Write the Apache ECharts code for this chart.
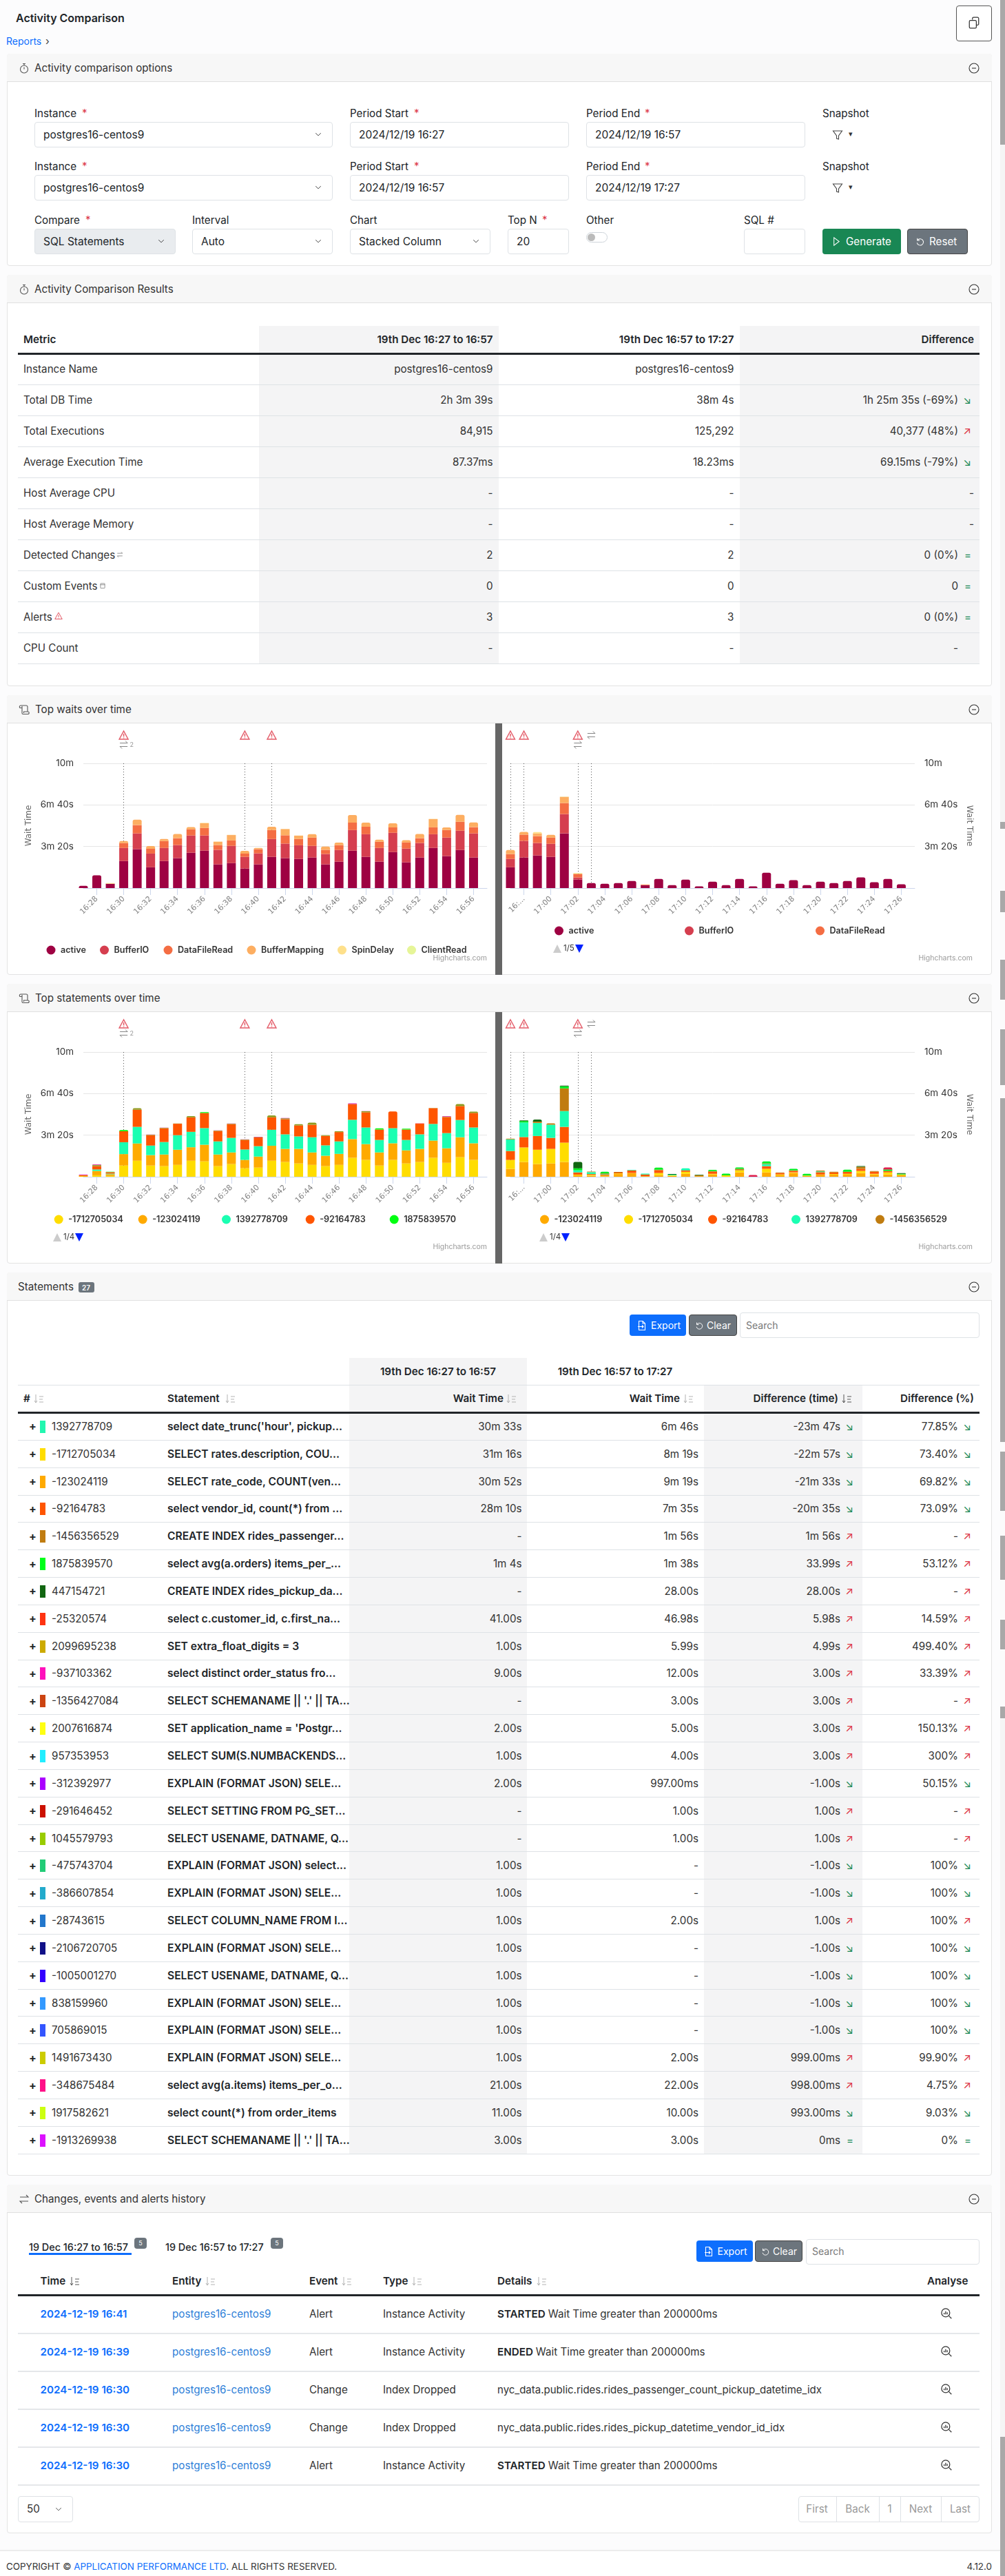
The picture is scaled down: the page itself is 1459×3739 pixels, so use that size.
<!DOCTYPE html>
<html>
<head>
<meta charset="utf-8">
<title>Activity Comparison</title>
<script src="https://cdn.jsdelivr.net/npm/echarts@6/dist/echarts.min.js"></script>
<style>
html, body { margin: 0; padding: 0; background: #fcfcfd; }
#page { position: relative; width: 1459px; height: 3739px; overflow: hidden; font-family: Inter, "Noto Sans", sans-serif; font-size: 15.2px; color: #212529; }
#page div, #page span, #page svg { position: absolute; }
.t { white-space: pre; line-height: 1.2; }
.card { background: #fff; border: 1px solid #e3e3e3; border-radius: 4px; box-sizing: border-box; }
.cardhead { background: #f7f7f7; border-bottom: 1px solid #e0e0e0; box-sizing: border-box; border-radius: 4px 4px 0 0; }
.input { background: #fff; border: 1px solid #dee2e6; border-radius: 4px; box-sizing: border-box; }
.btn { border-radius: 4px; box-sizing: border-box; }
</style>
</head>
<body>
<div id="page"></div>
<script>
// ---- chart data, seconds of wait time per minute ----
const leftTimes = ['16:27','16:28','16:29','16:30','16:31','16:32','16:33','16:34','16:35','16:36','16:37','16:38','16:39','16:40','16:41','16:42','16:43','16:44','16:45','16:46','16:47','16:48','16:49','16:50','16:51','16:52','16:53','16:54','16:55','16:56','16:57'];
const rightTimes = ['16:57','16:58','16:59','17:00','17:01','17:02','17:03','17:04','17:05','17:06','17:07','17:08','17:09','17:10','17:11','17:12','17:13','17:14','17:15','17:16','17:17','17:18','17:19','17:20','17:21','17:22','17:23','17:24','17:25','17:26','17:27'];
const yTickLabels = { 200: '3m 20s', 400: '6m 40s', 600: '10m' };

const waitNames = ['active','BufferIO','DataFileRead','BufferMapping','SpinDelay','ClientRead'];
const waitColors = ['#9e0142','#d53e4f','#f46d43','#fdae61','#fee08b','#e6f598'];

const waitsLeftActive = [11,61,21,130,187,100,130,144,170,180,114,120,94,114,150,144,140,147,114,127,180,150,127,173,124,147,193,154,183,147];
const waitsLeftBuffer = [0,0,0,63,76,66,63,63,83,73,70,83,56,53,86,70,66,56,50,56,99,109,66,93,66,70,66,89,93,116];
const waitsLeftData = [0,0,0,23,40,23,33,33,30,36,23,26,16,20,43,40,30,40,20,23,36,36,30,26,30,23,33,36,43,30];
const waitsLeftMapping = [0,0,0,10,26,13,10,20,10,23,16,26,13,6,16,30,16,16,16,13,36,20,10,20,10,20,40,13,33,23];
const waitsLeftSpin = [0,0,3,0,0,0,0,0,0,1,1,1,0,0,0,1,1,0,0,0,0,0,0,0,0,0,1,0,0,0];
const waitsLeftClient = [0,0,0,0,0,0,0,0,0,0,0,0,0,0,0,0,0,0,0,0,0,0,0,0,0,0,0,0,0,0];

const waitsRightActive = [100,147,157,150,263,41,24,21,24,34,14,44,14,41,8,31,14,44,8,74,21,38,14,31,24,34,51,28,44,18];
const waitsRightBuffer = [40,80,60,63,93,10,0,0,0,0,0,0,0,0,0,0,0,0,0,0,0,0,0,0,0,0,0,0,0,0];
const waitsRightData = [23,30,33,30,53,16,0,0,0,0,2,0,0,0,0,0,0,0,0,0,0,0,0,0,0,0,0,0,0,0];
const waitsRightMapping = [20,13,13,13,30,3,0,0,0,0,1,0,0,0,0,0,0,0,0,0,0,0,0,0,0,0,0,0,0,0];
const waitsRightSpin = [0,0,6,0,0,1,0,0,0,0,0,0,0,0,0,0,0,0,0,0,0,0,0,0,0,0,0,0,0,0];
const waitsRightClient = [0,0,0,0,1,2,0,0,0,0,0,0,0,0,0,0,0,0,0,0,0,0,0,0,0,0,0,0,0,0];

const stmtLeftNames = ['-1712705034','-123024119','1392778709','-92164783','1875839570','1045579793','-937103362'];
const stmtLeftColors = ['#ffdd00','#ffaa00','#1affb2','#ff5500','#00ff11','#8f9a1e','#e0109c'];
const stmtLeftYellow = [0,7,4,54,77,54,51,57,77,74,51,61,41,44,77,71,64,57,51,57,91,81,54,81,64,71,91,67,94,81];
const stmtLeftOrange = [7,21,8,55,83,50,56,73,65,80,56,56,40,53,72,63,70,60,50,53,90,76,63,80,63,63,83,70,96,80];
const stmtLeftTeal = [0,7,3,57,80,46,60,70,74,80,63,70,50,50,77,70,60,73,50,60,93,80,60,73,50,70,80,73,83,76];
const stmtLeftRed = [0,16,7,53,82,50,66,55,70,73,50,66,46,42,60,73,53,60,45,45,75,73,50,80,50,52,76,77,67,70];
const stmtLeftGreen = [0,0,2,6,0,0,0,0,0,4,0,0,0,0,0,0,0,0,0,0,0,0,6,0,4,0,0,0,0,0];
const stmtLeftOlive = [0,5,0,0,8,2,2,1,6,0,2,2,2,2,9,4,6,10,4,4,1,5,0,0,0,0,1,2,10,6];
const stmtLeftPink = [3,3,0,0,0,1,1,0,0,0,1,1,1,1,0,2,0,0,0,0,3,1,0,0,0,1,0,3,0,0];

const stmtRightNames = ['-123024119','-1712705034','-92164783','1392778709','-1456356529','1875839570','447154721','-25320574'];
const stmtRightColors = ['#ffaa00','#ffdd00','#ff5500','#1affb2','#c07c10','#00ee22','#116611','#e0204c'];
const stmtRightOrange = [38,71,61,64,71,7,5,3,13,17,3,8,4,14,3,11,0,21,0,21,7,18,4,11,10,10,18,11,11,7];
const stmtRightYellow = [43,70,69,70,93,3,4,3,3,1,0,10,3,10,0,3,7,10,0,17,4,3,2,0,3,4,10,3,10,4];
const stmtRightRed = [43,50,66,53,76,11,4,5,4,13,8,13,0,7,0,10,0,0,0,13,7,7,0,11,8,10,10,10,7,0];
const stmtRightTeal = [56,70,63,63,76,10,9,2,0,2,4,0,3,10,0,0,0,0,0,10,0,0,0,4,0,0,0,0,0,0];
const stmtRightBrown = [3,0,6,7,109,0,3,3,3,0,0,3,0,0,4,3,0,7,0,3,3,3,0,4,3,0,10,3,0,0];
const stmtRightGreen = [0,7,0,0,10,10,0,8,0,0,0,10,0,0,0,6,8,7,0,10,0,7,8,0,0,10,0,0,7,3];
const stmtRightDark = [0,3,10,0,3,30,0,0,0,0,0,0,3,0,2,0,0,0,0,0,0,0,0,0,0,0,3,0,0,3];
const stmtRightCrimson = [0,0,0,0,0,0,0,0,0,0,0,0,0,0,0,0,0,0,8,0,0,0,0,0,0,0,0,0,10,0];

const leftAlerts = ['16:30','16:39','16:41'];
const leftChanges = [['16:30','change','2']];
const rightAlerts = ['16:57','16:58','17:02'];
const rightChanges = [['17:02','change',''],['17:03','alert','']];

// ---- table data ----
const metricNames = ['Instance Name','Total DB Time','Total Executions','Average Execution Time','Host Average CPU','Host Average Memory','Detected Changes','Custom Events','Alerts','CPU Count'];
const metricFirst = ['postgres16-centos9','2h 3m 39s','84,915','87.37ms','-','-','2','0','3','-'];
const metricSecond = ['postgres16-centos9','38m 4s','125,292','18.23ms','-','-','2','0','3','-'];
const metricDiff = ['','1h 25m 35s (-69%)','40,377 (48%)','69.15ms (-79%)','-','-','0 (0%)','0','0 (0%)','-'];
const metricTrend = ['','d','u','d','n','n','e','e','e','x'];

const stmtIds = ['1392778709','-1712705034','-123024119','-92164783','-1456356529','1875839570','447154721','-25320574','2099695238','-937103362','-1356427084','2007616874','957353953','-312392977','-291646452','1045579793','-475743704','-386607854','-28743615','-2106720705','-1005001270','838159960','705869015','1491673430','-348675484','1917582621','-1913269938'];
const stmtSwatches = ['#22f7b0','#ffdd00','#ffaa00','#ff5500','#c07c10','#00ff1a','#116611','#ff3311','#ccaa00','#ff11bb','#cc4411','#ffff11','#22eeff','#aa00ff','#cc1100','#99cc00','#22cc77','#22aacc','#2277cc','#111188','#3300ff','#3399ff','#3355ff','#cccc00','#ff1188','#ccff11','#dd11ff'];
const stmtTexts = ["select date_trunc('hour', pickup...",'SELECT rates.description, COU...','SELECT rate_code, COUNT(ven...','select vendor_id, count(*) from ...','CREATE INDEX rides_passenger...','select avg(a.orders) items_per_...','CREATE INDEX rides_pickup_da...','select c.customer_id, c.first_na...','SET extra_float_digits = 3','select distinct order_status fro...',"SELECT SCHEMANAME || '.' || TA...","SET application_name = 'Postgr...",'SELECT SUM(S.NUMBACKENDS...','EXPLAIN (FORMAT JSON) SELE...','SELECT SETTING FROM PG_SET...','SELECT USENAME, DATNAME, Q...','EXPLAIN (FORMAT JSON) select...','EXPLAIN (FORMAT JSON) SELE...','SELECT COLUMN_NAME FROM I...','EXPLAIN (FORMAT JSON) SELE...','SELECT USENAME, DATNAME, Q...','EXPLAIN (FORMAT JSON) SELE...','EXPLAIN (FORMAT JSON) SELE...','EXPLAIN (FORMAT JSON) SELE...','select avg(a.items) items_per_o...','select count(*) from order_items',"SELECT SCHEMANAME || '.' || TA..."];
const stmtWaitFirst = ['30m 33s','31m 16s','30m 52s','28m 10s','-','1m 4s','-','41.00s','1.00s','9.00s','-','2.00s','1.00s','2.00s','-','-','1.00s','1.00s','1.00s','1.00s','1.00s','1.00s','1.00s','1.00s','21.00s','11.00s','3.00s'];
const stmtWaitSecond = ['6m 46s','8m 19s','9m 19s','7m 35s','1m 56s','1m 38s','28.00s','46.98s','5.99s','12.00s','3.00s','5.00s','4.00s','997.00ms','1.00s','1.00s','-','-','2.00s','-','-','-','-','2.00s','22.00s','10.00s','3.00s'];
const stmtDiffTime = ['-23m 47s','-22m 57s','-21m 33s','-20m 35s','1m 56s','33.99s','28.00s','5.98s','4.99s','3.00s','3.00s','3.00s','3.00s','-1.00s','1.00s','1.00s','-1.00s','-1.00s','1.00s','-1.00s','-1.00s','-1.00s','-1.00s','999.00ms','998.00ms','993.00ms','0ms'];
const stmtDiffPct = ['77.85%','73.40%','69.82%','73.09%','-','53.12%','-','14.59%','499.40%','33.39%','-','150.13%','300%','50.15%','-','-','100%','100%','100%','100%','100%','100%','100%','99.90%','4.75%','9.03%','0%'];
const stmtTrend = ['d','d','d','d','u','u','u','u','u','u','u','u','u','d','u','u','d','d','u','d','d','d','d','u','u','d','e'];

const eventTimes = ['2024-12-19 16:41','2024-12-19 16:39','2024-12-19 16:30','2024-12-19 16:30','2024-12-19 16:30'];
const eventKinds = ['Alert','Alert','Change','Change','Alert'];
const eventTypes = ['Instance Activity','Instance Activity','Index Dropped','Index Dropped','Instance Activity'];
const eventBold = ['STARTED','ENDED','','','STARTED'];
const eventDetails = ['Wait Time greater than 200000ms','Wait Time greater than 200000ms','nyc_data.public.rides.rides_passenger_count_pickup_datetime_idx','nyc_data.public.rides.rides_pickup_datetime_vendor_id_idx','Wait Time greater than 200000ms'];

const scrollThumbs = [[0,210],[1193,10],[1293,31],[1393,58],[1494,81],[1594,499],[2107,86],[2229,64],[2351,43],[2477,17],[3537,202]];
const scrollGaps = [[1203,90],[1324,69],[1451,43],[1575,19],[2093,14],[2193,36],[2293,58],[2394,83]];

// ---- small dom helpers ----
const page = document.getElementById('page');
function box(x, y, w, h, cls, css) {
    const d = document.createElement('div');
    d.className = cls || '';
    d.style.cssText = `left:${x}px;top:${y}px;width:${w}px;height:${h}px;` + (css || '');
    page.appendChild(d);
    return d;
}
// align: l, r or c; x is the edge or the centre, yc the vertical centre
function txt(x, yc, s, css, align) {
    const d = document.createElement('span');
    d.className = 't';
    const tx = align === 'r' ? '-100%' : align === 'c' ? '-50%' : '0';
    d.style.cssText = `left:${x}px;top:${yc}px;transform:translate(${tx},-50%);` + (css || '');
    d.textContent = s;
    page.appendChild(d);
    return d;
}
function icon(x, y, w, h, inner, color) {
    const ns = 'http://www.w3.org/2000/svg';
    const s = document.createElementNS(ns, 'svg');
    s.setAttribute('viewBox', '0 0 16 16');
    s.setAttribute('width', w);
    s.setAttribute('height', h);
    s.style.cssText = `left:${x}px;top:${y}px;fill:none;stroke:${color || '#444'};stroke-width:1.1;`;
    s.innerHTML = inner;
    page.appendChild(s);
}
const ICON_WATCH = '<circle cx="8" cy="9.5" r="5.5"/><path d="M6 1.5h4M8 1.5v2.5M8 6.5v3"/>';
const ICON_MINUS = '<circle cx="8" cy="8" r="7"/><path d="M5 8h6"/>';
const ICON_SCROLL = '<path d="M3 2h8a2 2 0 0 1 2 2v7M3 2a2 2 0 0 0-1 3.5h3V3M5 5v8a1.5 1.5 0 0 0 1.5 1.5h7a1.5 1.5 0 0 0 0-3.5h-6v2"/>';
const ICON_SWAP = '<path d="M2 5h12L11 2M14 11H2l3 3"/>';
const ICON_ALERT = '<path d="M8 1.5L15 14H1Z"/><path d="M8 6v4.5M8 11.8v.8"/>';
const ICON_CAL = '<rect x="3" y="3" width="10" height="11" rx="1"/><path d="M3 6h10"/>';
const ICON_CHEVRON = '<path d="M3 5.5l5 5 5-5"/>';
const ICON_FUNNEL = '<path d="M1.5 2h13L9.5 9v5l-3-1V9Z"/>';
const ICON_PLAY = '<path d="M5 2l8 6-8 6Z"/>';
const ICON_RESET = '<path d="M4 3v3.5h3.5M4 6.5a5 5 0 1 1-.5 3.5"/>';
const ICON_EXPORT = '<path d="M9 1.5H3.5v13h9V5ZM9 1.5V5h3.5M2 9.5h8M8 7.5l2 2-2 2"/>';
const ICON_ZOOM = '<circle cx="7" cy="7" r="5.3"/><path d="M11 11l3.5 3.5M5 9V7M7 9V5M9 9V6.5"/>';
const ICON_COPY = '<path d="M6 4V2.5A1.5 1.5 0 0 1 7.5 1h5A1.5 1.5 0 0 1 14 2.5v7a1.5 1.5 0 0 1-1.5 1.5H11"/><rect x="2" y="5" width="9" height="10" rx="1.5"/>';

function card(y1, y2, headBottom, title, titleX, ic) {
    box(10, y1, 1430, y2 - y1, 'card');
    box(10, y1, 1430, headBottom - y1, 'cardhead');
    txt(titleX, (y1 + headBottom) / 2, title, 'font-size:15.2px;color:#333;');
    if (ic) icon(27, (y1 + headBottom) / 2 - 8, 16, 16, ic, '#555');
    icon(1406, (y1 + headBottom) / 2 - 8, 16, 16, ICON_MINUS, '#333');
}
function trendMark(right, yc, kind) {
    const marks = { u: ['↗', '#dc3545'], d: ['↘', '#198754'], e: ['=', '#198754'] };
    if (marks[kind]) txt(right, yc, marks[kind][0], `color:${marks[kind][1]};font-size:15px;`, 'r');
}

// ---- top of page ----
txt(23, 27, 'Activity Comparison', 'font-size:16px;font-weight:600;color:#212529;');
box(1388, 8, 52, 52, '', 'background:#fff;border:1px solid #555;border-radius:4px;box-sizing:border-box;');
icon(1405, 22, 18, 22, ICON_COPY, '#333');
txt(9, 60, 'Reports', 'color:#0d6efd;font-size:14px;');
txt(66, 60, '›', 'color:#444;font-size:15px;');

// ---- options form ----
card(78, 386, 119, 'Activity comparison options', 50, ICON_WATCH);
function field(label, x, w, y, value, opts) {
    opts = opts || {};
    txt(x, y - 12, label);
    if (opts.required) txt(x + opts.required, y - 13, '*', 'color:#dc3545;font-size:15px;');
    box(x, y, w, 37, 'input', opts.fill ? `background:${opts.fill};` : '');
    if (value) txt(x + 13, y + 18.5, value, 'font-size:15.5px;');
    if (opts.select) icon(x + w - 27, y + 12, 12, 12, ICON_CHEVRON, '#222');
}
[177, 254].forEach((y, i) => {
    field('Instance', 50, 433, y, 'postgres16-centos9', { required: 69, select: true });
    field('Period Start', 508, 318, y, i ? '2024/12/19 16:57' : '2024/12/19 16:27', { required: 93 });
    field('Period End', 851, 318, y, i ? '2024/12/19 17:27' : '2024/12/19 16:57', { required: 85 });
    txt(1194, y - 12, 'Snapshot');
    icon(1207, y + 11, 18, 16, ICON_FUNNEL, '#444');
    txt(1232, y + 18, '▾', 'font-size:11px;color:#333;');
});
field('Compare', 50, 205, 332, 'SQL Statements', { required: 74, select: true, fill: '#e9ecef' });
field('Interval', 279, 204, 332, 'Auto', { select: true });
field('Chart', 508, 204, 332, 'Stacked Column', { select: true });
field('Top N', 737, 89, 332, '20', { required: 50 });
txt(851, 320, 'Other');
box(851, 337, 31, 15, '', 'background:#fff;border:1px solid #ced4da;border-radius:8px;box-sizing:border-box;');
box(853, 339, 11, 11, '', 'background:#bbb;border-radius:50%;');
field('SQL #', 1080, 89, 332, '');
box(1194, 332, 114, 37, 'btn', 'background:#198754;');
icon(1206, 343, 15, 15, ICON_PLAY, '#fff');
txt(1228, 350.5, 'Generate', 'color:#fff;');
box(1317, 332, 88, 37, 'btn', 'background:#6c757d;border:1px solid #444;');
icon(1328, 343, 15, 15, ICON_RESET, '#fff');
txt(1349, 350.5, 'Reset', 'color:#fff;');

// ---- comparison results table ----
card(399, 996, 440, 'Activity Comparison Results', 50, ICON_WATCH);
box(376, 473, 348, 490, '', 'background:#f4f4f5;');
box(1074, 473, 348, 490, '', 'background:#f4f4f5;');
txt(34, 493, 'Metric', 'font-weight:600;');
txt(715.5, 493, '19th Dec 16:27 to 16:57', 'font-weight:600;', 'r');
txt(1065.5, 493, '19th Dec 16:57 to 17:27', 'font-weight:600;', 'r');
txt(1414, 493, 'Difference', 'font-weight:600;', 'r');
box(26, 512, 1396, 3, '', 'background:#212529;');
metricNames.forEach((name, i) => {
    const yc = 536 + 45 * i;
    box(26, 558 + 45 * i, 1396, 1, '', 'background:#dee2e6;');
    txt(34, yc, name, 'color:#333;');
    txt(715.5, yc, metricFirst[i], 'color:#333;', 'r');
    txt(1065.5, yc, metricSecond[i], 'color:#333;', 'r');
    const trend = metricTrend[i];
    txt(trend === 'n' ? 1414 : 1391, yc, metricDiff[i], 'color:#333;', 'r');
    trendMark(1410, yc, trend);
});
icon(169, 800, 10, 10, ICON_SWAP, '#666');
icon(144, 845, 10, 10, ICON_CAL, '#666');
icon(79, 888, 12, 12, ICON_ALERT, '#dc3545');

// ---- chart cards ----
card(1009, 1415, 1050, 'Top waits over time', 51, ICON_SCROLL);
box(719, 1050, 10, 365, '', 'background:#666;');
card(1428, 1834, 1469, 'Top statements over time', 51, ICON_SCROLL);
box(719, 1469, 10, 365, '', 'background:#666;');
box(10, 1050, 709, 365, '').id = 'waitsLeft';
box(729, 1050, 710, 365, '').id = 'waitsRight';
box(10, 1469, 709, 365, '').id = 'stmtLeft';
box(729, 1469, 710, 365, '').id = 'stmtRight';

// ---- statements table ----
card(1847, 3158, 1888, 'Statements', 26);
box(113.5, 1861, 23, 15, '', 'background:#6c757d;border-radius:3px;');
txt(125, 1868.5, '27', 'color:#fff;font-size:10px;font-weight:600;', 'c');
function tools(exX, clrX, clrW, searchX, y, h, sy, sh) {
    box(exX, y, 82, h, 'btn', 'background:#0d6efd;');
    icon(exX + 10, y + h / 2 - 8, 16, 16, ICON_EXPORT, '#fff');
    txt(exX + 31, y + h / 2, 'Export', 'color:#fff;font-size:14px;');
    box(clrX, y, clrW, h, 'btn', 'background:#6c757d;border:1px solid #444;');
    icon(clrX + 8, y + h / 2 - 7, 14, 14, ICON_RESET, '#fff');
    txt(clrX + 26, y + h / 2, 'Clear', 'color:#fff;font-size:14px;');
    box(searchX, sy, 1422 - searchX, sh, 'input');
    txt(searchX + 9, sy + sh / 2, 'Search', 'color:#777;font-size:14px;');
}
tools(914, 1000, 70, 1074, 1908, 31, 1905, 37);
box(507, 1971, 258, 1154.6, '', 'background:#f4f4f5;');
box(1022, 2010, 230, 1115.6, '', 'background:#f4f4f5;');
box(26, 2010, 1396, 1, '', 'background:#dee2e6;');
txt(636, 1991, '19th Dec 16:27 to 16:57', 'font-weight:600;', 'c');
txt(893, 1991, '19th Dec 16:57 to 17:27', 'font-weight:600;', 'c');
const ICON_SORT = '<path d="M4 2v12M2 11l2 3 2-3M9 5h6M9 9h5M9 13h6" stroke-width="0.9"/>';
function sortIcon(x, yc, color) { icon(x, yc - 8, 16, 16, ICON_SORT, color || '#aaa'); }
txt(34, 2030, '#', 'font-weight:600;');
sortIcon(48, 2030);
txt(243, 2030, 'Statement', 'font-weight:600;');
sortIcon(326, 2030);
txt(731, 2030, 'Wait Time', 'font-weight:600;', 'r');
sortIcon(734, 2030);
txt(987, 2030, 'Wait Time', 'font-weight:600;', 'r');
sortIcon(991, 2030);
txt(1217, 2030, 'Difference (time)', 'font-weight:600;', 'r');
sortIcon(1221, 2030, '#444');
txt(1414, 2030, 'Difference (%)', 'font-weight:600;', 'r');
box(26, 2049, 1396, 3, '', 'background:#212529;');
const ROW_H = 39.84;
stmtIds.forEach((id, i) => {
    const yc = 2050.5 + ROW_H * i + ROW_H / 2 + 0.5;
    box(26, 2050 + ROW_H * (i + 1), 1396, 1, '', 'background:#dee2e6;');
    txt(42, yc + 0.5, '+', 'font-weight:700;font-size:16px;color:#212529;');
    box(58, yc - 9, 8, 18, '', `background:${stmtSwatches[i]};`);
    txt(75, yc, id, 'color:#333;');
    txt(243, yc, stmtTexts[i], 'font-weight:600;font-size:15.6px;color:#212529;');
    txt(757.5, yc, stmtWaitFirst[i], 'color:#333;', 'r');
    txt(1014, yc, stmtWaitSecond[i], 'color:#333;', 'r');
    txt(1220, yc, stmtDiffTime[i], 'color:#333;', 'r');
    trendMark(1239, yc, stmtTrend[i]);
    txt(1391, yc, stmtDiffPct[i], 'color:#333;', 'r');
    trendMark(1410, yc, stmtTrend[i]);
});

// ---- changes history ----
card(3171, 3677, 3212, 'Changes, events and alerts history', 50, ICON_SWAP);
txt(42, 3262, '19 Dec 16:27 to 16:57', 'font-weight:500;font-size:14.4px;');
box(42, 3270, 149, 3, '', 'background:#0d6efd;');
box(195, 3248, 18, 16, '', 'background:#6c757d;border-radius:4px;');
txt(204, 3256, '5', 'color:#fff;font-size:9px;', 'c');
txt(240, 3262, '19 Dec 16:57 to 17:27', 'font-weight:500;font-size:14.4px;');
box(393, 3248, 18, 16, '', 'background:#6c757d;border-radius:4px;');
txt(402, 3256, '5', 'color:#fff;font-size:9px;', 'c');
tools(1010.5, 1096, 69, 1170, 3252, 31, 3249.5, 37);
[['Time', 58.6, 100, '#444'], ['Entity', 250, 297], ['Event', 449, 495], ['Type', 556, 597], ['Details', 722, 778]].forEach(h => {
    txt(h[1], 3311, h[0], 'font-weight:600;');
    sortIcon(h[2], 3311, h[3]);
});
txt(1346, 3311, 'Analyse', 'font-weight:600;');
box(26, 3330, 1396, 3, '', 'background:#212529;');
eventTimes.forEach((t, i) => {
    const yc = 3359 + 55 * i;
    box(26, 3386 + 55 * i, 1396, 2, '', 'background:#e5e7ea;');
    txt(58.6, yc, t, 'color:#0d6efd;font-weight:600;');
    txt(250, yc, 'postgres16-centos9', 'color:#2f7fd8;');
    txt(449, yc, eventKinds[i], 'color:#333;');
    txt(556, yc, eventTypes[i], 'color:#333;');
    if (eventBold[i]) {
        const b = txt(722, yc, eventBold[i], 'font-weight:600;');
        txt(722 + b.getBoundingClientRect().width + 4, yc, eventDetails[i], 'color:#333;');
    } else {
        txt(722, yc, eventDetails[i], 'color:#333;font-size:15px;');
    }
    icon(1365, yc - 10, 18, 18, ICON_ZOOM, '#333');
});
box(26, 3622.5, 80, 38, 'input');
txt(39, 3641.5, '50', 'color:#333;');
icon(79, 3636, 12, 12, ICON_CHEVRON, '#333');
box(1158.5, 3622.5, 263.5, 38, 'input');
[['First', 1186, 1214], ['Back', 1245, 1276], ['1', 1291.5, 1307], ['Next', 1336.5, 1366], ['Last', 1394, 0]].forEach(p => {
    txt(p[1], 3641.5, p[0], 'color:#999;', 'c');
    if (p[2]) box(p[2], 3622.5, 1, 38, '', 'background:#dee2e6;');
});

// ---- footer and the scrollbar pieces in the capture ----
box(0, 3701, 1459, 38, '', 'background:#fff;border-top:2px solid #ececec;box-sizing:border-box;');
const fc = txt(9, 3725, 'COPYRIGHT © ', 'font-size:13.4px;color:#333;');
let fx = 9 + fc.getBoundingClientRect().width;
const fl = txt(fx, 3725, 'APPLICATION PERFORMANCE LTD', 'font-size:13.4px;color:#0d6efd;');
fx += fl.getBoundingClientRect().width;
txt(fx, 3725, '. ALL RIGHTS RESERVED.', 'font-size:13.4px;color:#333;');
txt(1440, 3725, '4.12.0', 'font-size:13.4px;color:#333;', 'r');
box(1452, 0, 7, 3739, '', 'background:#f5f5f5;');
scrollGaps.forEach(g => box(1452, g[0], 7, g[1], '', 'background:#fbfbfb;'));
scrollThumbs.forEach(g => box(1452, g[0], 7, g[1], '', 'background:#a8a8a8;'));

// ---- charts ----
const PATH_ALERT = 'path://M6 0L12 11H0ZM6 3.6V7.6M6 8.8V9.6';
const PATH_SWAP = 'path://M0 3H11L8 0M11 8H0L3 11';
function stackSeries(names, colors, arrays) {
    // only the topmost non-empty block of a column gets the rounded corners
    const tops = arrays[0].map((_, i) => {
        let top = -1;
        arrays.forEach((a, s) => { if (a[i] > 0) top = s; });
        return top;
    });
    return names.map((name, s) => ({
        name: name,
        type: 'bar',
        stack: 'total',
        barWidth: 13,
        z: 2,
        itemStyle: { color: colors[s] },
        emphasis: { disabled: true },
        data: arrays[s].map((v, i) => tops[i] === s
            ? { value: v, itemStyle: { borderRadius: [2.5, 2.5, 0, 0] } }
            : v)
    }));
}
function legendItems(names, lefts, top) {
    return names.map((name, i) => ({
        data: [name],
        left: lefts[i] - 6,
        top: top - 4.5,
        padding: 0,
        icon: 'circle',
        itemWidth: 18,
        itemHeight: 13,
        textStyle: { fontFamily: 'Inter', fontSize: 12.6, fontWeight: 600, color: '#333' }
    }));
}
function navGraphic(x, y, label) {
    const shade = { fontFamily: 'Inter', fontSize: 11.5, fill: '#333' };
    return [
        { type: 'polygon', shape: { points: [[x, y + 6], [x + 12, y + 6], [x + 6, y - 6]] }, style: { fill: '#cccccc' } },
        { type: 'text', x: x + 15, y: y, style: Object.assign({ text: label, verticalAlign: 'middle' }, shade) },
        { type: 'polygon', shape: { points: [[x + 32, y - 6], [x + 44, y - 6], [x + 38, y + 6]] }, style: { fill: '#0022ff' } }
    ];
}
function drawChart(id, cfg) {
    const chart = echarts.init(document.getElementById(id));
    const oddOnly = (i) => i % 2 === 1;
    const xAxisBase = {
        type: 'category',
        data: cfg.times,
        boundaryGap: false
    };
    const series = stackSeries(cfg.names, cfg.colors, cfg.values);
    series[0].markLine = {
        z: 1,
        silent: true,
        symbol: ['none', 'none'],
        label: { show: false },
        lineStyle: { color: '#555', width: 1, type: [1, 3] },
        data: cfg.alerts.concat(cfg.changes.map(c => c[0])).filter((t, i, a) => a.indexOf(t) === i).map(t => ({ xAxis: t }))
    };
    series.push({
        name: 'alerts', type: 'scatter', xAxisIndex: 1, yAxisIndex: 1, clip: false, silent: true,
        symbol: PATH_ALERT, symbolSize: [13, 12],
        itemStyle: { color: 'rgba(255,240,240,0.6)', borderColor: '#dc3545', borderWidth: 1.4 },
        data: cfg.alerts.map(t => [t, 'alert'])
    });
    series.push({
        name: 'changes', type: 'scatter', xAxisIndex: 1, yAxisIndex: 1, clip: false, silent: true,
        symbol: PATH_SWAP, symbolSize: [11, 11],
        itemStyle: { color: 'rgba(0,0,0,0)', borderColor: '#666', borderWidth: 1 },
        label: { show: true, position: 'right', distance: 3, fontFamily: 'Inter', fontSize: 9, color: '#777', formatter: (p) => p.data[2] },
        data: cfg.changes
    });
    chart.setOption({
        animation: false,
        grid: [
            { left: cfg.gridLeft, width: cfg.gridWidth, top: 58, height: 181 },
            { left: cfg.gridLeft, width: cfg.gridWidth, top: 17, height: 14 }
        ],
        xAxis: [
            Object.assign({}, xAxisBase, {
                gridIndex: 0,
                axisLine: { lineStyle: { color: '#ccd6eb' } },
                axisTick: { interval: oddOnly, alignWithLabel: true, length: 10, lineStyle: { color: '#ccd6eb' } },
                axisLabel: {
                    interval: oddOnly,
                    rotate: 45,
                    margin: 14,
                    hideOverlap: false,
                    fontFamily: 'DejaVu Sans',
                    fontSize: 11,
                    color: '#808080',
                    formatter: cfg.tickFormat
                }
            }),
            Object.assign({}, xAxisBase, { gridIndex: 1, show: false })
        ],
        yAxis: [
            {
                type: 'value',
                gridIndex: 0,
                position: cfg.yPosition,
                min: 0,
                max: 600,
                interval: 200,
                name: 'Wait Time',
                nameLocation: 'middle',
                nameRotate: cfg.yPosition === 'right' ? -90 : 90,
                nameGap: cfg.yPosition === 'right' ? 66 : 68,
                nameTextStyle: { fontFamily: 'DejaVu Sans', fontSize: 12, color: '#666' },
                axisLine: { show: false },
                axisTick: { show: false },
                splitLine: { lineStyle: { color: '#e6e6e6' } },
                axisLabel: {
                    margin: 14,
                    fontFamily: 'Inter',
                    fontSize: 13.5,
                    color: '#333',
                    formatter: (v) => yTickLabels[v] || ''
                }
            },
            { type: 'category', gridIndex: 1, data: ['change', 'alert'], boundaryGap: false, show: false }
        ],
        legend: cfg.legend,
        graphic: cfg.nav.concat([{
            type: 'text',
            x: cfg.creditRight,
            y: 341,
            style: { text: 'Highcharts.com', align: 'right', verticalAlign: 'middle', fontFamily: 'Inter', fontSize: 10.5, fill: '#999' }
        }]),
        series: series
    });
}
drawChart('waitsLeft', {
    times: leftTimes, tickFormat: (v) => v, names: waitNames, colors: waitColors,
    values: [waitsLeftActive, waitsLeftBuffer, waitsLeftData, waitsLeftMapping, waitsLeftSpin, waitsLeftClient],
    alerts: leftAlerts, changes: leftChanges, gridLeft: 111, gridWidth: 586, yPosition: 'left', creditRight: 697,
    legend: legendItems(waitNames, [63.5, 141, 233.5, 354.5, 486, 587], 327),
    nav: []
});
drawChart('waitsRight', {
    times: rightTimes, tickFormat: (v) => v === '16:58' ? '16:...' : v, names: waitNames, colors: waitColors,
    values: [waitsRightActive, waitsRightBuffer, waitsRightData, waitsRightMapping, waitsRightSpin, waitsRightClient],
    alerts: rightAlerts, changes: rightChanges, gridLeft: 12, gridWidth: 587, yPosition: 'right', creditRight: 683,
    legend: legendItems(waitNames.slice(0, 3), [82, 271, 461], 299),
    nav: navGraphic(74, 327, '1/5')
});
drawChart('stmtLeft', {
    times: leftTimes, tickFormat: (v) => v, names: stmtLeftNames, colors: stmtLeftColors,
    values: [stmtLeftYellow, stmtLeftOrange, stmtLeftTeal, stmtLeftRed, stmtLeftGreen, stmtLeftOlive, stmtLeftPink],
    alerts: leftAlerts, changes: leftChanges, gridLeft: 111, gridWidth: 586, yPosition: 'left', creditRight: 697,
    legend: legendItems(stmtLeftNames.slice(0, 5), [74.7, 196.7, 318, 439.7, 561.7], 299),
    nav: navGraphic(67, 327, '1/4')
});
drawChart('stmtRight', {
    times: rightTimes, tickFormat: (v) => v === '16:58' ? '16:...' : v, names: stmtRightNames, colors: stmtRightColors,
    values: [stmtRightOrange, stmtRightYellow, stmtRightRed, stmtRightTeal, stmtRightBrown, stmtRightGreen, stmtRightDark, stmtRightCrimson],
    alerts: rightAlerts, changes: rightChanges, gridLeft: 12, gridWidth: 587, yPosition: 'right', creditRight: 683,
    legend: legendItems(stmtRightNames.slice(0, 5), [61, 183, 305, 426, 548], 299),
    nav: navGraphic(54, 327, '1/4')
});
</script>
</body>
</html>
